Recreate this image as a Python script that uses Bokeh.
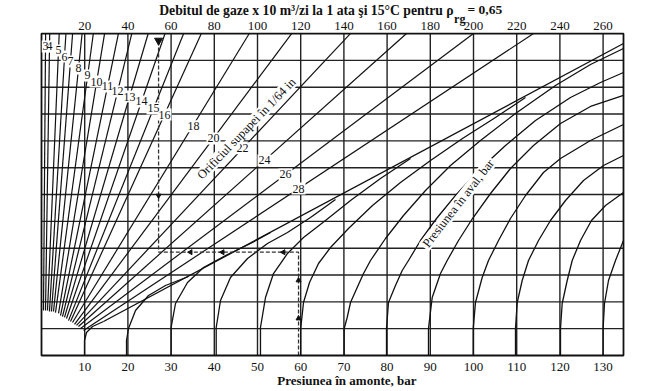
from math import pi
from bokeh.plotting import figure
from bokeh.models import Range1d
from bokeh.core.properties import value
from bokeh.embed import file_html
from bokeh.resources import INLINE

# ---------------- data (x in bar, y in chart grid units 0..12) ----------------
X_MAX = 134.72
Y_MAX = 12
upstream_ticks = [10, 20, 30, 40, 50, 60, 70, 80, 90, 100, 110, 120, 130]
flow_ticks = [20, 40, 60, 80, 100, 120, 140, 160, 180, 200, 220, 240, 260]
row_lines = [1, 2, 3, 4, 5, 6, 7, 8, 9, 10, 11]

orifice_sizes = [3, 4, 5, 6, 7, 8, 9, 10, 11, 12, 13, 14, 15, 16, 18, 20, 22, 24, 26, 28]
orifice_x0 = [0.46, 0.93, 1.39, 1.85, 2.31, 2.78, 3.24, 3.94, 4.40, 4.86, 5.32, 5.79, 6.25, 6.71, 7.18, 7.64, 8.10, 8.56, 9.03, 9.72]
orifice_y0 = [1.68, 1.68, 1.68, 1.64, 1.64, 1.64, 1.60, 1.57, 1.49, 1.45, 1.42, 1.38, 1.30, 1.27, 1.23, 1.16, 1.12, 1.08, 1.01, 0.93]
orifice_x1 = [0.95, 1.90, 4.10, 5.65, 7.20, 9.40, 12.0, 14.6, 17.8, 20.9, 24.7, 28.6, 32.9, 37.0, 48.1, 57.9, 71.5, 84.5, 100.0, 113.9]
orifice_y1 = [12] * 20
orifice_lx = [0.93, 1.85, 3.94, 5.32, 6.71, 8.56, 10.65, 12.73, 15.28, 17.59, 20.37, 23.15, 25.93, 28.47, 35.19, 39.81, 46.53, 51.62, 56.48, 59.49]
orifice_ly = [11.52, 11.52, 11.37, 11.14, 10.96, 10.70, 10.44, 10.21, 10.03, 9.84, 9.65, 9.47, 9.21, 8.98, 8.54, 8.09, 7.72, 7.27, 6.75, 6.22]

# downstream-pressure curves (bar), read point by point
downstream_p = [10, 20, 30, 40, 50, 60, 70, 80, 90, 100, 110, 120, 130]
curve_x = [
    [9.95, 9.95, 10.42, 11.81, 14.35],
    [19.68, 19.68, 20.14, 21.76, 24.77, 28.70, 34.03],
    [30.0, 30.0, 31.02, 33.80, 37.50, 43.06, 48.38, 53.01],
    [40.44, 40.44, 41.44, 43.75, 47.69, 52.31, 56.94, 62.27, 68.06],
    [50.69, 50.69, 51.85, 53.70, 56.94, 60.65, 65.74, 71.53, 78.47, 85.42],
    [60.0, 60.0, 60.65, 62.04, 64.12, 66.90, 71.06, 76.62, 83.10, 90.05, 97.45, 105.09, 112.04],
    [70.07, 70.07, 70.76, 71.53, 73.08, 74.54, 76.16, 79.63, 83.80, 88.89, 94.68, 101.62, 109.72, 118.98, 127.08, 134.72],
    [79.86, 79.86, 80.32, 81.94, 83.50, 84.95, 87.73, 91.44, 95.83, 101.16, 107.41, 114.35, 122.45, 129.40, 134.72],
    [89.58, 89.58, 90.44, 92.36, 93.91, 96.53, 99.77, 103.94, 108.56, 113.89, 120.14, 127.08, 134.72],
    [99.93, 99.93, 100.46, 102.01, 103.47, 105.79, 108.56, 112.04, 116.20, 120.14, 127.08, 134.72],
    [109.72, 109.72, 110.12, 111.27, 112.73, 115.05, 117.82, 121.30, 125.46, 130.09, 134.72],
    [120.14, 120.14, 120.53, 121.69, 122.85, 124.77, 127.31, 130.56, 134.72],
    [130.0, 130.0, 130.32, 131.25, 132.87, 134.72],
]
curve_y = [
    [0, 0.559, 0.857, 1.081, 1.267],
    [0, 0.559, 1.006, 1.677, 2.236, 2.609, 2.944],
    [0, 1.044, 1.938, 2.721, 3.280, 3.764, 4.174, 4.584],
    [0, 1.044, 2.050, 2.907, 3.615, 4.174, 4.584, 5.144, 5.814],
    [0, 1.044, 2.162, 3.056, 3.802, 4.398, 5.032, 5.777, 6.597, 7.342],
    [0, 1.006, 1.975, 2.721, 3.429, 4.025, 4.733, 5.591, 6.448, 7.268, 8.088, 8.871, 9.616],
    [0, 1.006, 1.416, 1.975, 2.534, 3.056, 3.541, 4.361, 5.218, 6.150, 7.082, 8.013, 9.020, 10.063, 10.846, 11.442],
    [0, 1.006, 1.975, 2.609, 3.168, 3.541, 4.286, 5.106, 5.963, 6.895, 7.827, 8.759, 9.616, 10.175, 10.548],
    [0, 1.006, 2.162, 3.056, 3.541, 4.286, 5.106, 6.038, 6.970, 7.827, 8.647, 9.281, 9.691],
    [0, 1.006, 1.975, 2.907, 3.541, 4.286, 5.106, 5.963, 6.821, 7.342, 8.013, 8.610],
    [0, 1.006, 1.975, 2.795, 3.541, 4.286, 5.032, 5.777, 6.522, 7.082, 7.454],
    [0, 1.006, 1.938, 2.795, 3.541, 4.286, 5.032, 5.591, 6.075],
    [0, 1.006, 1.938, 2.795, 3.541, 4.286],
]
# common envelope into which the low downstream-pressure curves merge
envelope_x = [14.35, 134.72]
envelope_y = [1.267, 11.629]

# worked example (dashed path)
example_x = [59.5, 59.5, 27.1, 27.1]
example_y = [0, 3.85, 3.85, 11.74]
arrow_x = [27.1, 27.1, 34.5, 41.9, 56.0, 59.5, 59.5]
arrow_y = [11.74, 5.96, 3.85, 3.85, 3.85, 2.80, 1.38]
arrow_angle = [pi, pi, pi / 2, pi / 2, pi / 2, 0, 0]
arrow_size = [8, 5, 5, 5, 5, 5, 5]

FONT = "Liberation Serif"
INK = "#111111"
PX_X = 4.32    # pixels per bar
PX_Y = 26.83   # pixels per grid row
W, H = 660, 391
LEFT, BOTTOM = 41, 36

xr = Range1d(-LEFT / PX_X, (W - LEFT) / PX_X)
yr = Range1d(-BOTTOM / PX_Y, (H - BOTTOM) / PX_Y)
p = figure(width=W, height=H, x_range=xr, y_range=yr, output_backend="svg",
           toolbar_location=None, min_border=0)
p.xaxis.visible = False
p.yaxis.visible = False
p.xgrid.visible = False
p.ygrid.visible = False
p.outline_line_color = None
p.background_fill_color = "white"
p.border_fill_color = "white"
p.extra_x_ranges = {"flow": Range1d(2 * xr.start, 2 * xr.end)}

GRID = "#222222"
p.segment(upstream_ticks, [0] * len(upstream_ticks), upstream_ticks, [Y_MAX] * len(upstream_ticks),
          line_color=GRID, line_width=1.4)
p.segment([0] * len(row_lines), row_lines, [X_MAX] * len(row_lines), row_lines,
          line_color=GRID, line_width=1.4)

# orifice lines
p.segment(orifice_x0, orifice_y0, orifice_x1, orifice_y1, line_color=INK, line_width=1.2)

# downstream pressure curves
p.multi_line(curve_x, curve_y, line_color=INK, line_width=1.3, line_join="round")
p.line(envelope_x, envelope_y, line_color=INK, line_width=1.3)

# example path
p.line(example_x, example_y, line_color="#333333", line_width=1.3, line_dash="4 2")
p.scatter(arrow_x, arrow_y, marker="triangle", angle=arrow_angle, size=arrow_size,
          fill_color=INK, line_color=INK)

# frame
p.quad(left=[0], right=[X_MAX], bottom=[0], top=[Y_MAX], fill_color=None,
       line_color=INK, line_width=1.8)

# orifice labels on white patches
labels = [str(s) for s in orifice_sizes]
p.rect(orifice_lx, orifice_ly, width=[6.5 * len(t) + 1 for t in labels], height=12,
       width_units="screen", height_units="screen", fill_color="white", line_color=None)
p.text(orifice_lx, orifice_ly, text=labels, text_font=value(FONT), text_font_size=value("12px"),
       text_align="center", text_baseline="middle", text_color=INK)

# rotated captions
a1 = 46 * pi / 180
a2 = 52 * pi / 180
p.rect([47.45], [8.46], width=142, height=13, angle=a1, width_units="screen", height_units="screen",
       fill_color="white", line_color=None)
p.text([47.45], [8.46], text=["Orificiul supapei în 1/64 in"], angle=a1, text_font=value(FONT),
       text_font_size=value("12.5px"), text_align="center", text_baseline="middle", text_color=INK)
p.rect([96.5], [5.67], width=112, height=13, angle=a2, width_units="screen", height_units="screen",
       fill_color="white", line_color=None)
p.text([96.5], [5.67], text=["Presiunea în aval, bar"], angle=a2, text_font=value(FONT),
       text_font_size=value("12.5px"), text_align="center", text_baseline="middle", text_color=INK)

# tick labels
p.text(x=upstream_ticks, y=[-0.44] * len(upstream_ticks), text=[str(t) for t in upstream_ticks],
       text_font=value(FONT), text_font_size=value("13px"), text_align="center",
       text_baseline="middle", text_color=INK)
p.text(x=flow_ticks, y=[12.28] * len(flow_ticks), text=[str(t) for t in flow_ticks],
       x_range_name="flow", text_font=value(FONT), text_font_size=value("13px"),
       text_align="center", text_baseline="middle", text_color=INK)

# titles
p.text(x=[95.4], y=[12.86], text=["Debitul de gaze x 10 m³/zi la 1 ata şi 15°C pentru ρ"],
       text_font=value(FONT), text_font_size=value("13.7px"), text_font_style="bold",
       text_align="right", text_baseline="middle", text_color=INK)
p.text(x=[95.5], y=[12.56], text=["rg"], text_font=value(FONT), text_font_size=value("12px"),
       text_font_style="bold", text_align="left", text_baseline="middle", text_color=INK)
p.text(x=[98.6], y=[12.88], text=["=  0,65"], text_font=value(FONT), text_font_size=value("13.5px"),
       text_font_style="bold", text_align="left", text_baseline="middle", text_color=INK)
p.text(x=[70.7], y=[-0.92], text=["Presiunea în amonte, bar"], text_font=value(FONT),
       text_font_size=value("13px"), text_font_style="bold", text_align="center",
       text_baseline="middle", text_color=INK)

open("out.html", "w").write(file_html(p, INLINE))
